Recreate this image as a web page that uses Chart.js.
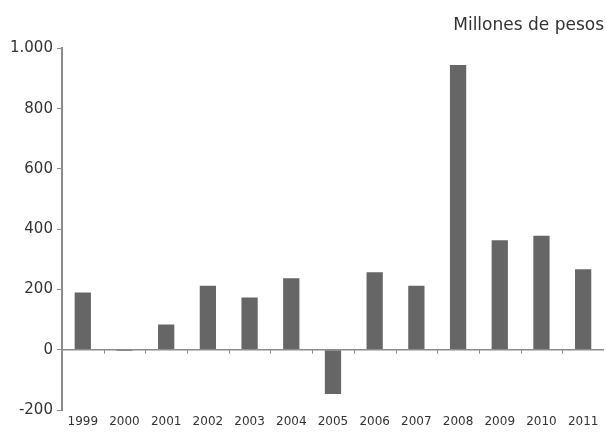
<!DOCTYPE html>
<html>
<head>
<meta charset="utf-8">
<script src="https://cdn.jsdelivr.net/npm/chart.js@4/dist/chart.umd.min.js"></script>
<style>
  html, body { margin: 0; padding: 0; background: #fff; }
  #wrap { width: 606px; height: 433px; }
</style>
</head>
<body>
<div id="wrap"><canvas id="chart"></canvas></div>
<script>
// datos
const years = ['1999', '2000', '2001', '2002', '2003', '2004', '2005', '2006', '2007', '2008', '2009', '2010', '2011'];
const values = [190, -4, 84, 212, 173, 237, -147, 257, 212, 945, 363, 378, 267];
const yTicks = [-200, 0, 200, 400, 600, 800, 1000];
const unitLabel = 'Millones de pesos';

const fontFamily = '"DejaVu Sans", sans-serif';

// linea del cero y marcas entre categorias
const zeroLine = {
    id: 'zeroLine',
    afterDatasetsDraw(chart) {
        const { ctx, chartArea, scales } = chart;
        const y0 = scales.y.getPixelForValue(0);
        ctx.save();
        ctx.strokeStyle = '#8c8c8c';
        ctx.lineWidth = 1.5;
        ctx.beginPath();
        ctx.moveTo(chartArea.left, y0);
        ctx.lineTo(chartArea.right, y0);
        ctx.stroke();
        ctx.lineWidth = 1;
        for (let i = 1; i < years.length; i++) {
            const x = Math.round(scales.x.getPixelForValue(i - 0.5)) + 0.5;
            ctx.beginPath();
            ctx.moveTo(x, y0);
            ctx.lineTo(x, y0 + 4);
            ctx.stroke();
        }
        ctx.restore();
    }
};

new Chart(document.getElementById('chart'), {
    type: 'bar',
    data: {
        labels: years,
        datasets: [{
            data: values,
            backgroundColor: '#666666',
            borderWidth: 0,
            barPercentage: 0.39,
            categoryPercentage: 1
        }]
    },
    options: {
        responsive: true,
        maintainAspectRatio: false,
        animation: false,
        layout: { padding: { left: 6, right: 2, bottom: 2 } },
        plugins: {
            legend: { display: false },
            tooltip: { enabled: false },
            title: {
                display: true,
                text: unitLabel,
                align: 'end',
                color: '#333',
                font: { family: fontFamily, size: 17, weight: 'normal' },
                padding: { top: 15, bottom: 13 }
            }
        },
        scales: {
            x: {
                grid: { display: false, drawTicks: false },
                border: { display: false },
                afterFit(scale) { scale.height = 21; },
                ticks: {
                    color: '#333',
                    font: { family: fontFamily, size: 12 },
                    padding: 5,
                    maxRotation: 0
                }
            },
            y: {
                min: -200,
                max: 1000,
                afterBuildTicks(scale) {
                    scale.ticks = yTicks.map(v => ({ value: v }));
                },
                grid: { drawOnChartArea: false, drawTicks: true, tickLength: 5, color: '#8c8c8c' },
                border: { display: true, color: '#8c8c8c', width: 2 },
                ticks: {
                    color: '#333',
                    font: { family: fontFamily, size: 15 },
                    padding: 4,
                    callback: v => v.toLocaleString('es-CL')
                }
            }
        }
    },
    plugins: [zeroLine]
});
</script>
</body>
</html>
